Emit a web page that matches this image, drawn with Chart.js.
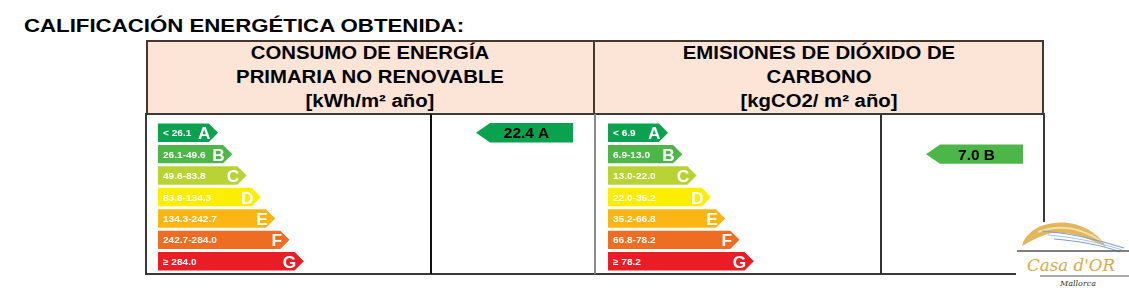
<!DOCTYPE html>
<html><head><meta charset="utf-8">
<script src="https://cdn.jsdelivr.net/npm/chart.js@4.4.1/dist/chart.umd.min.js"></script>
<style>
html,body{margin:0;padding:0;background:#fff;width:1129px;height:295px;overflow:hidden;font-family:"Liberation Sans",Arial,sans-serif;}
.abs{position:absolute;}
#title{left:24px;top:15px;font-weight:bold;font-size:19px;color:#000;white-space:nowrap;transform:scaleX(1.17);transform-origin:0 0;}
#hdr{left:146px;top:40px;width:898px;height:75px;background:#fce4d6;border:2px solid #45382f;box-sizing:border-box;}
#hdrDiv{left:593px;top:40px;width:2px;height:75px;background:#45382f;}
.ht{font-weight:bold;font-size:18px;color:#000;text-align:center;white-space:nowrap;width:440px;transform:scaleX(1.13);transform-origin:50% 0;}
#box{left:145px;top:113px;width:900px;height:162px;border:2px solid #3a3a3a;box-sizing:border-box;background:#fff;}
.vd{top:114px;width:2px;height:160px;}
canvas{position:absolute;}
#logoPatch{left:1016px;top:222px;width:113px;height:73px;background:#fff;}
</style></head>
<body>
<div id="title" class="abs">CALIFICACIÓN ENERGÉTICA OBTENIDA:</div>
<div id="hdr" class="abs"></div>
<div id="hdrDiv" class="abs"></div>
<div class="abs ht" style="left:150px;top:43px;">CONSUMO DE ENERGÍA</div>
<div class="abs ht" style="left:150px;top:67px;">PRIMARIA NO RENOVABLE</div>
<div class="abs ht" style="left:150px;top:91px;">[kWh/m² año]</div>
<div class="abs ht" style="left:599px;top:43px;">EMISIONES DE DIÓXIDO DE</div>
<div class="abs ht" style="left:599px;top:67px;">CARBONO</div>
<div class="abs ht" style="left:599px;top:91px;">[kgCO2/ m² año]</div>
<div id="box" class="abs"></div>
<div class="abs vd" style="left:430px;background:#111;"></div>
<div class="abs vd" style="left:594px;background:#8a8a8a;"></div>
<div class="abs vd" style="left:880px;background:#333;"></div>
<canvas id="c1" width="450" height="160" style="left:145px;top:114px;width:450px;height:160px;"></canvas>
<canvas id="c2" width="450" height="160" style="left:595px;top:114px;width:450px;height:160px;"></canvas>
<div id="logoPatch" class="abs"></div>
<svg class="abs" style="left:1010px;top:210px;" width="119" height="85" viewBox="0 0 119 85">
  <path d="M12 36 C14 26 24 18 34 15 C42 13 50 12 58 13 C68 14 76 18 82 22 C88 26 93 31 96 37 C88 33 80 29 70 26 C60 23 50 22 42 23 C32 25 22 30 12 36 Z" fill="#e2b75c"/>
  <path d="M28 22 C48 15 70 16 92 32" stroke="#f4dfae" stroke-width="2" fill="none"/>
  <path d="M32 21 C58 23 86 29 114 38" stroke="#7f9fd0" stroke-width="1.2" fill="none"/>
  <path d="M38 25 C62 27 88 32 112 40" stroke="#a9c0e4" stroke-width="1" fill="none"/>
  <path d="M44 29 C68 31 92 35 110 42" stroke="#7f9fd0" stroke-width="1" fill="none"/>
  <line x1="7" y1="41" x2="119" y2="41" stroke="#555" stroke-width="1.3"/>
  <line x1="30" y1="66" x2="119" y2="66" stroke="#555" stroke-width="1.2"/>
  <text x="17" y="61" font-family="DejaVu Serif, serif" font-style="italic" font-size="17" fill="#d9aa4a" textLength="88" lengthAdjust="spacingAndGlyphs">Casa d'OR</text>
  <text x="50" y="76" font-family="DejaVu Serif, serif" font-style="italic" font-size="8" fill="#333">Mallorca</text>
</svg>
<script>
const classes = ['A','B','C','D','E','F','G'];
const classRank = [1,2,3,4,5,6,7];
const energyRanges = ['< 26.1','26.1-49.6','49.6-83.8','83.8-134.3','134.3-242.7','242.7-284.0','≥ 284.0'];
const emissionRanges = ['< 6.9','6.9-13.0','13.0-22.0','22.0-35.2','35.2-66.8','66.8-78.2','≥ 78.2'];
const energyValue = '22.4';
const energyClass = 'A';
const emissionValue = '7.0';
const emissionClass = 'B';
const classColors = ['#0aa14f','#4cb748','#b9d234','#fdee00','#fbb616','#ef6d23','#e81d25'];

const FONT = '"Liberation Sans", Arial, sans-serif';

function stretchedText(ctx, txt, x, y, sx, align) {
  ctx.save();
  ctx.translate(x, y);
  ctx.scale(sx, 1);
  ctx.textAlign = align;
  ctx.fillText(txt, 0, 0);
  ctx.restore();
}

const arrowPlugin = {
  id: 'arrows',
  beforeDatasetDraw(chart) { return false; },
  afterDatasetsDraw(chart) {
    const ctx = chart.ctx;
    const meta = chart.getDatasetMeta(0);
    const o = chart.config.options.plugins.arrows;
    ctx.save();
    ctx.textBaseline = 'alphabetic';
    meta.data.forEach((el, i) => {
      const p = el.getProps(['x','y','base','height'], true);
      const h = p.height, top = p.y - h/2, bot = p.y + h/2, tip = h/2;
      ctx.fillStyle = classColors[i];
      ctx.beginPath();
      ctx.moveTo(p.base, top);
      ctx.lineTo(p.x - tip, top);
      ctx.lineTo(p.x, p.y);
      ctx.lineTo(p.x - tip, bot);
      ctx.lineTo(p.base, bot);
      ctx.closePath();
      ctx.fill();
      ctx.fillStyle = '#fff';
      ctx.font = 'bold 9px ' + FONT;
      stretchedText(ctx, o.ranges[i], p.base + 5, p.y + 3.5, 1.12, 'left');
      ctx.font = 'bold 16px ' + FONT;
      stretchedText(ctx, classes[i], p.x - 7.5, p.y + 6.5, 1.08, 'right');
    });
    // indicator arrow in the right cell
    const idx = classes.indexOf(o.cls);
    const cy = chart.scales.y.getPixelForValue(idx);
    const h = meta.data[idx].height + 1;
    const left = o.cellLeft + 45, right = o.cellRight - 22, tip = 14;
    ctx.fillStyle = classColors[idx];
    ctx.beginPath();
    ctx.moveTo(left, cy);
    ctx.lineTo(left + tip, cy - h/2);
    ctx.lineTo(right, cy - h/2);
    ctx.lineTo(right, cy + h/2);
    ctx.lineTo(left + tip, cy + h/2);
    ctx.closePath();
    ctx.fill();
    ctx.fillStyle = '#000';
    ctx.font = 'bold 14px ' + FONT;
    stretchedText(ctx, o.value + ' ' + o.cls, (left + right)/2 + 2, cy + 5.5, 1.1, 'center');
    ctx.restore();
  }
};

function makeChart(id, ranges, value, cls) {
  return new Chart(document.getElementById(id), {
    type: 'bar',
    data: {
      labels: classes,
      datasets: [{
        data: classRank,
        base: -3.2,
        backgroundColor: classColors,
        categoryPercentage: 1,
        barPercentage: 0.86
      }]
    },
    options: {
      indexAxis: 'y',
      responsive: false,
      animation: false,
      layout: { padding: { left: 13, right: 164, top: 8, bottom: 2 } },
      scales: {
        x: { display: false, min: -3.2, max: 15.9 },
        y: { display: false }
      },
      plugins: {
        legend: { display: false },
        tooltip: { enabled: false },
        arrows: { ranges: ranges, value: value, cls: cls, cellLeft: 286, cellRight: 450 }
      }
    },
    plugins: [arrowPlugin]
  });
}
makeChart('c1', energyRanges, energyValue, energyClass);
makeChart('c2', emissionRanges, emissionValue, emissionClass);
</script>
</body></html>
